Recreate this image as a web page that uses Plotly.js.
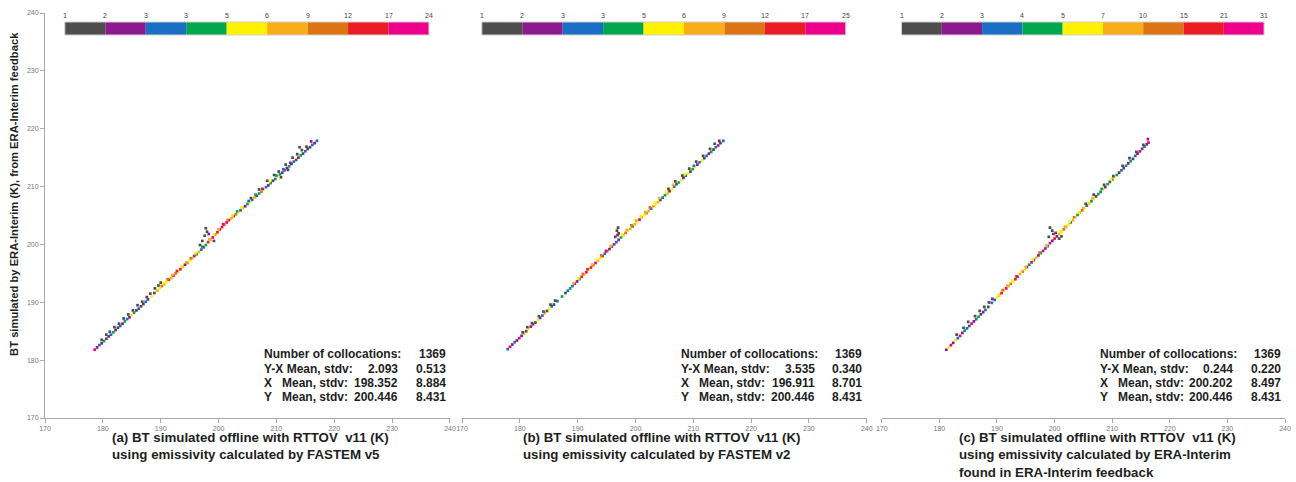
<!DOCTYPE html>
<html>
<head>
<meta charset="utf-8">
<script src="https://cdn.plot.ly/plotly-3.0.1.min.js"></script>
<style>html,body{margin:0;padding:0;background:#fff;}#chart{width:1296px;height:482px;}</style>
</head>
<body>
<div id="chart"></div>
<script>
// ---------- DATA ----------
// Colour classes of the 2-D histogram (count bins)
const binColors = ["#4d4d4d","#8b1a8f","#1a6fc4","#00a650","#fff200","#f9ad16","#dd7313","#ed1c24","#ec008c"];
// Colour-bar edge labels for each panel
const edgesA = ["1","2","3","3","5","6","9","12","17","24"];
const edgesB = ["1","2","3","3","5","6","9","12","17","25"];
const edgesC = ["1","2","3","4","5","7","10","15","21","31"];

// Statistics for each panel
const statsLabels = ["Number of collocations:", "Y-X Mean, stdv:", "X\u00a0\u00a0\u00a0Mean, stdv:", "Y\u00a0\u00a0\u00a0Mean, stdv:"];
const statsA = [["", "1369"], ["2.093", "0.513"], ["198.352", "8.884"], ["200.446", "8.431"]];
const statsB = [["", "1369"], ["3.535", "0.340"], ["196.911", "8.701"], ["200.446", "8.431"]];
const statsC = [["", "1369"], ["0.244", "0.220"], ["200.202", "8.497"], ["200.446", "8.431"]];

const titleA = "(a) BT simulated offline with RTTOV\u00a0 v11 (K)<br>using emissivity calculated by FASTEM v5";
const titleB = "(b) BT simulated offline with RTTOV\u00a0 v11 (K)<br>using emissivity calculated by FASTEM v2";
const titleC = "(c) BT simulated offline with RTTOV\u00a0 v11 (K)<br>using emissivity calculated by ERA-Interim<br>found in ERA-Interim feedback";
const yTitle = "BT simulated by ERA-Interim (K), from ERA-Interim feedback";
const axisTicks = [170,180,190,200,210,220,230,240];

// Histogram cells: [x (K), y (K), colour class]
const cellsA = [
[178.6,181.8,8],[179.0,182.2,1],[179.4,182.6,2],[179.8,182.9,1],[180.2,183.3,3],[180.6,183.7,0],[181.0,184.1,1],[181.4,184.4,2],
[181.8,184.8,3],[182.2,185.2,1],[182.6,185.6,0],[183.0,185.9,2],[183.4,186.3,1],[183.8,186.7,3],[184.2,187.1,2],[184.6,187.4,1],
[185.0,187.8,4],[185.4,188.2,3],[185.8,188.6,1],[186.2,188.9,2],[186.6,189.3,0],[187.0,189.7,1],[187.4,190.1,2],[187.8,190.5,0],
[188.4,191.0,4],[188.9,191.6,0],[189.4,192.0,5],[189.8,192.4,4],[190.2,192.8,6],[190.6,193.1,5],[191.0,193.5,4],[191.4,193.9,7],
[191.8,194.2,5],[192.2,194.6,8],[192.6,195.0,6],[193.0,195.3,4],[193.4,195.7,7],[193.8,196.1,5],[194.2,196.5,1],[194.6,196.8,6],
[195.0,197.2,4],[195.4,197.6,5],[195.8,198.0,8],[196.2,198.3,3],[196.6,198.7,5],[197.0,199.1,2],[197.4,199.5,1],[197.8,199.9,3],
[198.2,200.4,7],[198.6,200.8,5],[199.0,201.2,8],[199.4,201.7,6],[199.8,202.1,7],[200.2,202.6,8],[200.6,203.0,7],[201.0,203.4,6],
[201.4,203.8,8],[201.8,204.2,7],[202.2,204.5,5],[202.6,204.9,1],[203.0,205.2,6],[203.4,205.6,4],[203.8,205.9,2],[204.2,206.3,5],
[204.6,206.6,1],[205.0,207.0,3],[205.4,207.3,4],[205.8,207.7,2],[206.2,208.1,5],[206.6,208.4,1],[207.0,208.8,3],[207.4,209.1,6],
[207.8,209.5,4],[208.2,209.9,2],[208.6,210.2,1],[209.0,210.6,3],[209.4,211.0,0],[209.8,211.3,2],[210.2,211.7,4],[210.6,212.1,3],
[211.0,212.4,1],[211.4,212.8,2],[211.8,213.2,0],[212.2,213.5,3],[212.6,213.9,1],[213.0,214.3,2],[213.4,214.6,0],[213.8,215.0,1],
[214.2,215.4,3],[214.6,215.7,0],[215.0,216.1,2],[215.4,216.5,1],[215.8,216.8,0],[216.2,217.2,2],[216.6,217.5,1],[217.0,217.9,2],
[190.4,193.3,4],[191.2,194.0,6],[192.0,194.7,5],[192.8,195.4,7],[193.6,196.2,4],[194.4,196.9,5],[195.2,197.6,6],[196.0,198.5,4],
[197.2,199.6,3],[198.4,200.9,5],[199.2,201.7,4],[200.0,202.6,5],[200.8,203.5,8],[201.6,204.2,6],[202.4,205.0,4],[203.2,205.7,3],
[204.0,206.4,4],[205.2,207.5,2],[206.4,208.6,3],[207.6,209.6,1],[208.8,210.9,4],[210.0,211.9,3],[211.2,213.0,2],[212.4,214.1,1],
[179.8,183.5,0],[180.6,184.4,0],[181.2,184.9,0],[182.0,185.7,0],[182.8,186.3,0],[183.6,187.2,0],[184.4,187.9,0],[185.2,188.6,0],
[186.0,189.5,0],[186.8,190.1,0],[187.6,190.9,1],[188.2,191.5,0],[189.0,192.4,0],[189.6,192.9,0],[190.0,193.4,0],
[197.8,202.8,0],[198.0,202.2,0],[197.6,201.5,0],[198.3,201.8,1],[197.2,200.6,0],[196.8,199.9,0],[199.2,200.6,0],
[205.6,208.0,0],[207.0,209.5,0],[208.4,211.0,0],[209.6,212.0,0],[210.4,212.6,0],[211.6,213.8,0],[212.8,215.0,0],[213.6,215.6,0],
[214.4,216.3,0],[215.2,216.9,0],[216.0,217.8,1],[210.8,211.6,0],[212.0,212.9,1],[214.0,216.8,0]
];
const cellsB = [
[177.9,181.9,2],[178.3,182.3,8],[178.7,182.7,1],[179.1,183.1,2],[179.5,183.4,1],[179.9,183.8,8],[180.3,184.2,1],[180.7,184.6,5],
[181.1,185.0,0],[181.5,185.4,4],[181.9,185.8,1],[182.3,186.2,8],[182.7,186.5,0],[183.1,186.9,4],[183.5,187.3,1],[183.9,187.7,2],
[184.3,188.1,5],[184.7,188.5,0],[185.1,188.9,4],[185.5,189.3,2],[185.9,189.6,0],[186.5,190.2,2],[187.3,191.0,3],[187.9,191.6,0],
[188.3,192.0,2],[188.7,192.4,3],[189.1,192.8,2],[189.5,193.2,8],[189.9,193.6,1],[190.3,194.0,3],[190.7,194.4,7],[191.1,194.8,5],
[191.5,195.2,8],[191.9,195.6,4],[192.3,196.0,7],[192.7,196.4,6],[193.1,196.8,8],[193.5,197.2,5],[193.9,197.6,4],[194.3,198.0,7],
[194.7,198.4,2],[195.1,198.8,6],[195.5,199.2,1],[195.9,199.6,2],[196.3,200.0,8],[196.7,200.4,2],[197.1,200.8,1],[197.5,201.2,3],
[197.9,201.6,5],[198.3,202.0,6],[198.7,202.4,4],[199.1,202.7,5],[199.5,203.1,3],[199.9,203.5,5],[200.3,203.9,4],[200.7,204.3,8],
[201.1,204.7,5],[201.5,205.1,4],[201.9,205.4,6],[202.3,205.8,5],[202.7,206.2,2],[203.1,206.6,5],[203.5,206.9,4],[203.9,207.3,5],
[204.3,207.7,0],[204.7,208.1,2],[205.1,208.5,3],[205.5,208.8,5],[205.9,209.2,1],[206.3,209.6,4],[206.7,210.0,2],[207.1,210.4,0],
[207.5,210.7,3],[207.9,211.1,4],[208.3,211.5,1],[208.7,211.9,2],[209.1,212.3,4],[209.5,212.6,0],[209.9,213.0,3],[210.3,213.4,4],
[210.7,213.8,1],[211.1,214.2,2],[211.5,214.5,4],[211.9,214.9,0],[212.3,215.3,2],[212.7,215.7,1],[213.1,216.0,3],[213.5,216.4,0],
[213.9,216.8,2],[214.3,217.1,1],[214.7,217.5,0],[215.2,217.9,2],
[189.3,193.3,5],[190.1,194.1,4],[190.9,194.9,6],[191.7,195.7,7],[192.5,196.5,5],[193.3,197.3,4],[194.1,198.1,6],[194.9,198.9,8],
[195.7,199.7,5],[197.7,201.7,4],[198.5,202.5,5],[199.3,203.3,6],[200.1,204.1,5],[200.9,204.9,4],[201.7,205.6,5],[202.5,206.4,6],
[203.3,207.2,4],[204.1,208.0,5],[205.3,209.1,4],[206.5,210.3,5],[208.5,212.1,4],[210.1,213.6,2],
[197.0,202.9,0],[196.8,202.4,0],[197.1,201.9,0],[196.5,201.3,0],[196.9,201.6,1],
[180.5,184.8,0],[181.3,185.7,0],[182.1,186.4,0],[183.3,187.6,0],[184.1,188.4,0],[185.3,189.6,0],[186.1,190.3,0],
[205.7,209.6,0],[206.9,210.9,0],[208.1,211.9,0],[209.3,213.1,0],[210.5,214.3,0],[211.7,215.3,0],[212.9,216.5,0],[213.7,217.4,0],[214.5,217.9,1]
];
const cellsC = [
[181.2,181.8,1],[181.6,182.2,4],[182.0,182.6,8],[182.4,183.0,1],[182.8,183.4,4],[183.2,183.8,2],[183.6,184.2,8],[184.0,184.7,1],
[184.4,185.1,3],[184.8,185.5,2],[185.2,185.9,0],[185.6,186.3,8],[186.0,186.7,1],[186.4,187.1,2],[186.8,187.5,3],[187.2,187.9,0],
[187.6,188.3,1],[188.0,188.7,2],[188.5,189.2,0],[189.1,189.9,2],[189.6,190.4,2],[190.0,190.8,4],[190.4,191.2,5],[190.8,191.6,7],
[191.2,192.0,4],[191.6,192.4,8],[192.0,192.8,5],[192.4,193.2,6],[192.8,193.6,4],[193.2,194.0,7],[193.6,194.4,2],[194.0,194.9,5],
[194.4,195.3,8],[194.8,195.7,4],[195.2,196.1,1],[195.6,196.5,3],[196.0,196.9,8],[196.4,197.3,2],[196.8,197.7,5],[197.2,198.1,1],
[197.6,198.5,3],[198.0,198.9,8],[198.4,199.3,1],[198.8,199.7,2],[199.2,200.2,8],[199.6,200.6,1],[200.0,201.0,7],[200.4,201.4,1],
[200.8,201.8,5],[201.2,202.2,4],[201.6,202.6,6],[202.0,203.0,5],[202.4,203.4,4],[202.8,203.8,2],[203.2,204.2,5],[203.6,204.7,4],
[204.0,205.1,3],[204.4,205.5,5],[204.8,205.9,6],[205.2,206.3,4],[205.6,206.7,2],[206.0,207.1,5],[206.4,207.5,3],[206.8,207.9,4],
[207.2,208.3,0],[207.6,208.7,3],[208.0,209.1,2],[208.4,209.5,4],[208.8,209.9,1],[209.2,210.4,3],[209.6,210.8,0],[210.0,211.2,2],
[210.4,211.6,4],[210.8,212.0,3],[211.2,212.4,1],[211.6,212.8,2],[212.0,213.2,0],[212.4,213.6,2],[212.8,214.0,1],[213.2,214.4,3],
[213.6,214.8,0],[214.0,215.3,2],[214.4,215.7,1],[214.8,216.1,8],[215.2,216.5,0],[215.6,216.9,2],[216.0,217.3,1],[216.3,217.6,8],
[190.2,191.3,4],[191.0,192.1,6],[191.8,192.9,5],[192.6,193.7,4],[193.4,194.5,7],[194.2,195.3,4],[195.0,196.1,5],[196.2,197.4,4],
[197.4,198.6,6],[198.6,199.8,5],[201.0,202.3,4],[201.8,203.1,5],[202.6,203.9,4],[203.4,204.7,6],[204.2,205.5,4],[205.0,206.3,5],
[205.8,207.2,4],[206.6,208.0,5],[208.2,209.6,3],[209.8,211.2,4],
[183.0,184.4,0],[184.2,185.6,0],[185.0,186.6,0],[186.2,187.6,0],[187.0,188.5,0],[187.8,189.2,0],[188.6,190.0,0],[189.2,190.6,1],
[199.2,202.9,0],[199.6,202.4,0],[199.0,201.3,0],[200.2,202.0,0],[200.8,201.0,0],[201.2,201.4,0],[199.8,201.8,1],
[205.4,207.0,0],[206.8,208.6,0],[208.6,210.3,0],[210.2,211.8,0],[211.8,213.6,0],[213.0,214.9,0],[214.2,216.0,0],[215.4,217.2,0],[216.2,218.2,1]
];

// ---------- BUILD ----------
const FONT = "Liberation Sans, Arial, Helvetica, sans-serif";
const TXT = "#1e1e1e";
const panels = [
  {cells: cellsA, edges: edgesA, stats: statsA, title: titleA, xa: "x",  titleOff: 0.160},
  {cells: cellsB, edges: edgesB, stats: statsB, title: titleB, xa: "x2", titleOff: 0.146},
  {cells: cellsC, edges: edgesC, stats: statsC, title: titleC, xa: "x3", titleOff: 0.186}
];

const traces = panels.map(p => ({
  type: "scatter", mode: "markers", xaxis: p.xa, yaxis: "y",
  x: p.cells.map(c => c[0]), y: p.cells.map(c => c[1]),
  marker: {symbol: "square", size: 2.7, color: p.cells.map(c => binColors[c[2]]), line: {width: 0}},
  hoverinfo: "x+y", showlegend: false
}));

const shapes = [], annotations = [];
const cbX0 = 0.049, cbStep = 0.0999, cbY0 = 0.9457, cbY1 = 0.9778;
const statY = [0.158, 0.121, 0.0857, 0.0511];
panels.forEach(p => {
  const dref = p.xa + " domain";
  binColors.forEach((col, i) => {
    shapes.push({type: "rect", xref: dref, yref: "paper", x0: cbX0 + i*cbStep, x1: cbX0 + (i+1)*cbStep,
      y0: cbY0, y1: cbY1, fillcolor: col, line: {width: 0}, layer: "above"});
  });
  shapes.push({type: "rect", xref: dref, yref: "paper", x0: cbX0, x1: cbX0 + 9*cbStep, y0: cbY0, y1: cbY1,
    fillcolor: "rgba(0,0,0,0)", line: {color: "#d0d0d0", width: 1}, layer: "above"});
  p.edges.forEach((lab, i) => {
    annotations.push({xref: dref, yref: "paper", x: cbX0 + i*cbStep, y: 0.9926, text: lab, showarrow: false,
      xanchor: "center", yanchor: "middle", font: {family: FONT, size: 7, color: "#444"}});
  });
  statsLabels.forEach((lab, i) => {
    annotations.push({xref: dref, yref: "paper", x: 0.536, y: statY[i], text: "<b>" + lab + "</b>", showarrow: false,
      xanchor: "left", yanchor: "middle", font: {family: FONT, size: 12, color: TXT}});
    if (p.stats[i][0]) annotations.push({xref: dref, yref: "paper", x: 0.8765, y: statY[i], text: "<b>" + p.stats[i][0] + "</b>",
      showarrow: false, xanchor: "right", yanchor: "middle", font: {family: FONT, size: 12, color: TXT}});
    annotations.push({xref: dref, yref: "paper", x: 0.994, y: statY[i], text: "<b>" + p.stats[i][1] + "</b>", showarrow: false,
      xanchor: "right", yanchor: "middle", font: {family: FONT, size: 12, color: TXT}});
  });
  annotations.push({xref: dref, yref: "paper", x: p.titleOff, y: -0.025, text: "<b>" + p.title + "</b>", showarrow: false,
    xanchor: "left", yanchor: "top", align: "left", font: {family: FONT, size: 13.3, color: TXT}});
});
annotations.push({xref: "paper", yref: "paper", x: -0.0256, y: 0.554, text: "<b>" + yTitle + "</b>", textangle: -90,
  showarrow: false, xanchor: "center", yanchor: "middle", font: {family: FONT, size: 11.2, color: TXT}});

const axBase = {range: [170, 240], tickvals: axisTicks, ticktext: axisTicks.map(String), showgrid: false, zeroline: false,
  showline: true, linecolor: "#aaaaaa", linewidth: 1, ticks: "outside", ticklen: 4, tickcolor: "#aaaaaa",
  tickfont: {family: FONT, size: 7, color: "#777"}, fixedrange: true};

const layout = {
  width: 1296, height: 482, margin: {l: 45, r: 11, t: 13, b: 64},
  paper_bgcolor: "#fff", plot_bgcolor: "#fff", showlegend: false,
  xaxis:  Object.assign({}, axBase, {domain: [0, 0.3266], anchor: "y"}),
  xaxis2: Object.assign({}, axBase, {domain: [0.3363, 0.6627], anchor: "y"}),
  xaxis3: Object.assign({}, axBase, {domain: [0.6748, 1], anchor: "y"}),
  yaxis:  Object.assign({}, axBase, {domain: [0, 1], anchor: "x"}),
  shapes: shapes, annotations: annotations
};

Plotly.newPlot("chart", traces, layout, {displayModeBar: false, staticPlot: true});
</script>
</body>
</html>
